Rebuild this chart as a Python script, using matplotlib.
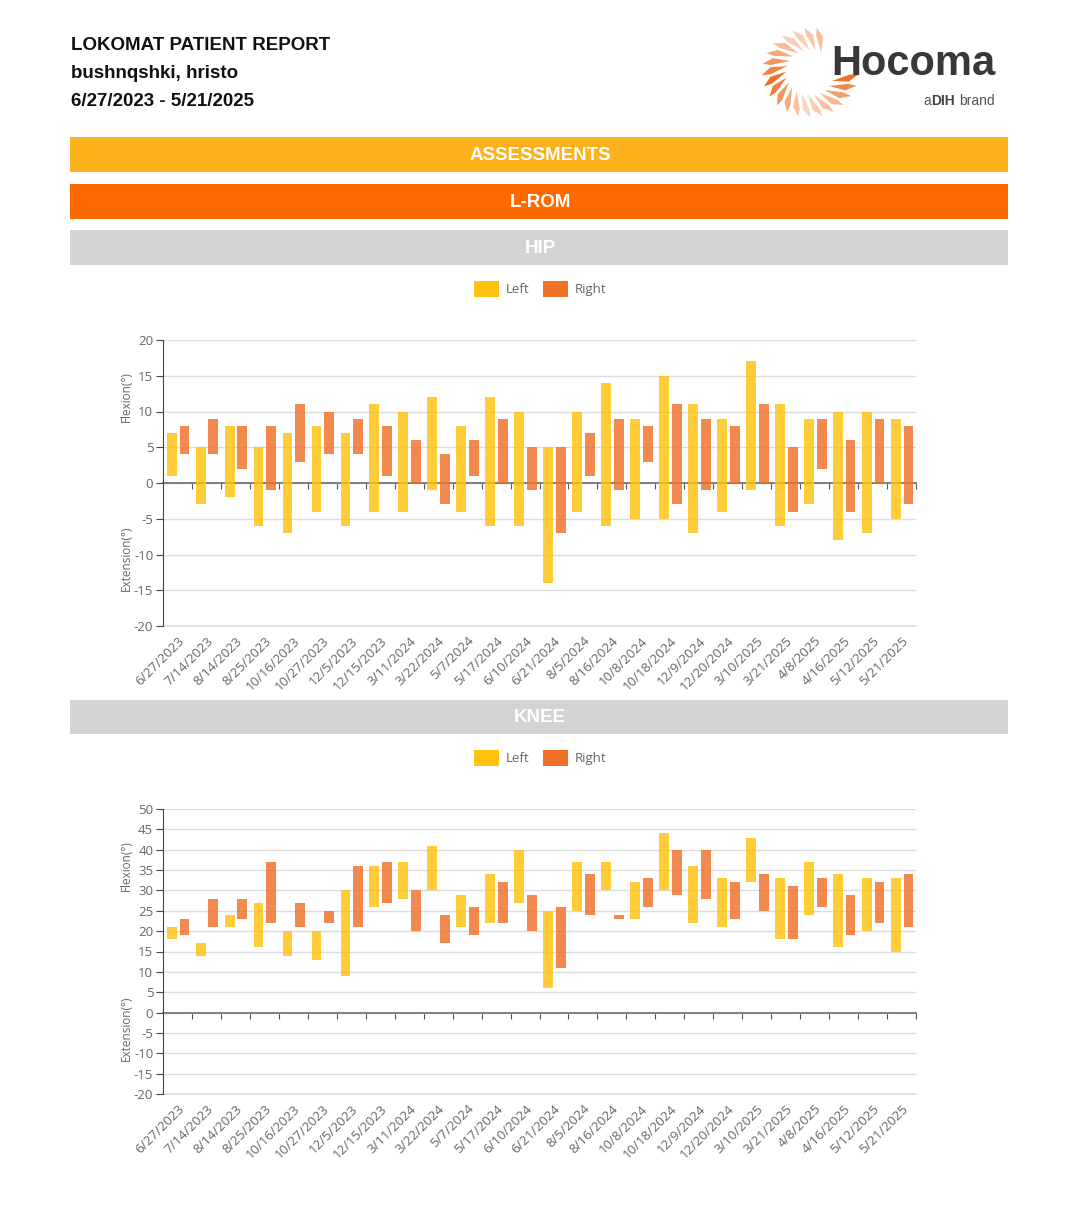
import numpy as np
import matplotlib.pyplot as plt
from matplotlib.patches import Rectangle, Patch, Polygon

plt.rcParams["axes.unicode_minus"] = False

dates = ["6/27/2023", "7/14/2023", "8/14/2023", "8/25/2023", "10/16/2023", "10/27/2023",
         "12/5/2023", "12/15/2023", "3/11/2024", "3/22/2024", "5/7/2024", "5/17/2024",
         "6/10/2024", "6/21/2024", "8/5/2024", "8/16/2024", "10/8/2024", "10/18/2024",
         "12/9/2024", "12/20/2024", "3/10/2025", "3/21/2025", "4/8/2025", "4/16/2025",
         "5/12/2025", "5/21/2025"]

# hip range of motion (negative = extension)
hip_left_low = [1, -3, -2, -6, -7, -4, -6, -4, -4, -1, -4, -6, -6, -14, -4, -6, -5, -5, -7, -4, -1, -6, -3, -8, -7, -5]
hip_left_high = [7, 5, 8, 5, 7, 8, 7, 11, 10, 12, 8, 12, 10, 5, 10, 14, 9, 15, 11, 9, 17, 11, 9, 10, 10, 9]
hip_right_low = [4, 4, 2, -1, 3, 4, 4, 1, 0, -3, 1, 0, -1, -7, 1, -1, 3, -3, -1, 0, 0, -4, 2, -4, 0, -3]
hip_right_high = [8, 9, 8, 8, 11, 10, 9, 8, 6, 4, 6, 9, 5, 5, 7, 9, 8, 11, 9, 8, 11, 5, 9, 6, 9, 8]

# knee range of motion
knee_left_low = [18, 14, 21, 16, 14, 13, 9, 26, 28, 30, 21, 22, 27, 6, 25, 30, 23, 30, 22, 21, 32, 18, 24, 16, 20, 15]
knee_left_high = [21, 17, 24, 27, 20, 20, 30, 36, 37, 41, 29, 34, 40, 25, 37, 37, 32, 44, 36, 33, 43, 33, 37, 34, 33, 33]
knee_right_low = [19, 21, 23, 22, 21, 22, 21, 27, 20, 17, 19, 22, 20, 11, 24, 23, 26, 29, 28, 23, 25, 18, 26, 19, 22, 21]
knee_right_high = [23, 28, 28, 37, 27, 25, 36, 37, 30, 24, 26, 32, 29, 26, 34, 24, 33, 40, 40, 32, 34, 31, 33, 29, 32, 34]

LEFT_C = "#FFC20E"
RIGHT_C = "#F07028"
W, H = 1080, 1218


def fx(x):
    return x / W


def fy(y):
    return 1 - y / H


fig = plt.figure(figsize=(10.8, 12.18), dpi=100)
fig.patch.set_facecolor("white")

# header
for txt, y in [("LOKOMAT PATIENT REPORT", 46), ("bushnqshki, hristo", 74), ("6/27/2023 - 5/21/2025", 102)]:
    fig.text(fx(71), fy(y), txt, fontsize=13.5, fontweight="bold", family="Liberation Sans",
             ha="left", va="center", color="#111111")

# logo swirl
lax = fig.add_axes([fx(755), fy(120), 110 / W, 95 / H])
lax.set_xlim(-1.16, 1.16)
lax.set_ylim(-1.0, 1.0)
lax.axis("off")
orange = np.array([240, 108, 35]) / 255
for a in np.arange(62, 340, 14.5):
    t = np.radians(a)
    inten = np.interp(a, [62, 100, 180, 250, 290, 340], [0.45, 0.3, 1.0, 0.3, 0.45, 1.0])
    col = orange * inten + (1 - inten) * np.ones(3)
    sw = np.radians(20)
    p1 = (0.5 * np.cos(t), 0.47 * np.sin(t))
    tip = t + sw
    ox, oy = 1.02 * np.cos(tip), 0.95 * np.sin(tip)
    m = t + sw * 0.7
    mx, my = 0.84 * np.cos(m), 0.79 * np.sin(m)
    nx, ny = -np.sin(m), np.cos(m)
    half = 0.075
    lax.add_patch(Polygon([p1, (mx + nx * half, my + ny * half), (ox, oy), (mx - nx * half, my - ny * half)],
                          closed=True, facecolor=col, edgecolor="none"))

fig.text(fx(831), fy(64), "Hocoma", fontsize=30, fontweight="bold", family="Liberation Sans",
         color="#383838", ha="left", va="center")
fig.text(fx(923), fy(101), "a", fontsize=10, family="Liberation Sans", color="#555555", ha="left", va="center")
fig.text(fx(931), fy(101), "DIH", fontsize=10, fontweight="bold", family="Liberation Sans",
         color="#444444", ha="left", va="center")
fig.text(fx(959), fy(101), "brand", fontsize=10, family="Liberation Sans", color="#555555", ha="left", va="center")


def banner(y0, y1, color, label, tcolor="white"):
    fig.add_artist(Rectangle((fx(70), fy(y1)), fx(1008) - fx(70), (y1 - y0) / H,
                             transform=fig.transFigure, facecolor=color, edgecolor="none"))
    fig.text(0.5, fy((y0 + y1) / 2 + 1), label, fontsize=13.5, fontweight="bold", family="Liberation Sans",
             color=tcolor, ha="center", va="center")


banner(137, 172, "#FDB11D", "ASSESSMENTS")
banner(184, 219, "#FF6A00", "L-ROM")
banner(230, 265, "#D3D3D5", "HIP")
banner(700, 734, "#D3D3D5", "KNEE")


def rom_chart(top_px, bot_px, ymin, ymax, llow, lhigh, rlow, rhigh, legend_y, flex_y, ext_y):
    ax = fig.add_axes([fx(163), fy(bot_px), fx(916) - fx(163), (bot_px - top_px) / H])
    x = np.arange(len(dates))
    ll, lh = np.array(llow), np.array(lhigh)
    rl, rh = np.array(rlow), np.array(rhigh)
    ax.bar(x - 0.2, lh - ll, bottom=ll, width=0.34, color=LEFT_C, alpha=0.82, zorder=3)
    ax.bar(x + 0.24, rh - rl, bottom=rl, width=0.34, color=RIGHT_C, alpha=0.82, zorder=3)
    ax.set_xlim(-0.5, len(dates) - 0.5)
    ax.set_ylim(ymin, ymax)
    ax.set_yticks(np.arange(ymin, ymax + 1, 5))
    ax.yaxis.grid(True, color="#DDDDDD", lw=1)
    ax.axhline(ymin, color="#DDDDDD", lw=1.2, clip_on=False, zorder=0)
    ax.set_axisbelow(True)
    for s in ["top", "right"]:
        ax.spines[s].set_visible(False)
    ax.spines["left"].set_color("#444444")
    ax.spines["bottom"].set_position(("data", 0))
    ax.spines["bottom"].set_color("#777777")
    ax.spines["bottom"].set_linewidth(1.3)
    ax.spines["bottom"].set_zorder(2)
    ax.set_xticks(np.arange(len(dates)) + 0.5)
    ax.set_xticklabels([])
    ax.tick_params(axis="x", length=4, color="#555555")
    ax.tick_params(axis="y", length=5, color="#444444", labelcolor="#666666", labelsize=9.5, pad=2)
    for lab in ax.get_yticklabels():
        lab.set_family("Open Sans")

    sec = ax.secondary_xaxis("bottom")
    sec.set_xticks(x)
    sec.set_xticklabels(dates)
    sec.tick_params(length=0, pad=6, labelcolor="#666666", labelsize=9.5)
    sec.spines["bottom"].set_visible(False)
    for lab in sec.get_xticklabels():
        lab.set_rotation(45)
        lab.set_ha("right")
        lab.set_rotation_mode("anchor")
        lab.set_family("Open Sans")

    fig.text(fx(126), fy(flex_y), "Flexion(°)", rotation=90, fontsize=8.5, color="#666666",
             family="Open Sans", ha="center", va="center")
    fig.text(fx(126), fy(ext_y), "Extension(°)", rotation=90, fontsize=8.5, color="#666666",
             family="Open Sans", ha="center", va="center")

    handles = [Patch(facecolor=LEFT_C, label="Left"), Patch(facecolor=RIGHT_C, label="Right")]
    leg = fig.legend(handles=handles, loc="center", bbox_to_anchor=(fx(540), fy(legend_y)), ncol=2,
                     frameon=False, handlelength=1.9, handleheight=1.4,
                     handletextpad=0.5, columnspacing=1.0, prop={"family": "Open Sans", "size": 9.5})
    for t in leg.get_texts():
        t.set_color("#666666")
    return ax


rom_chart(340, 626, -20, 20, hip_left_low, hip_left_high, hip_right_low, hip_right_high, 289, 397, 558)
rom_chart(809, 1094, -20, 50, knee_left_low, knee_left_high, knee_right_low, knee_right_high, 758, 866, 1028)

fig.savefig("out.png", dpi=100)
